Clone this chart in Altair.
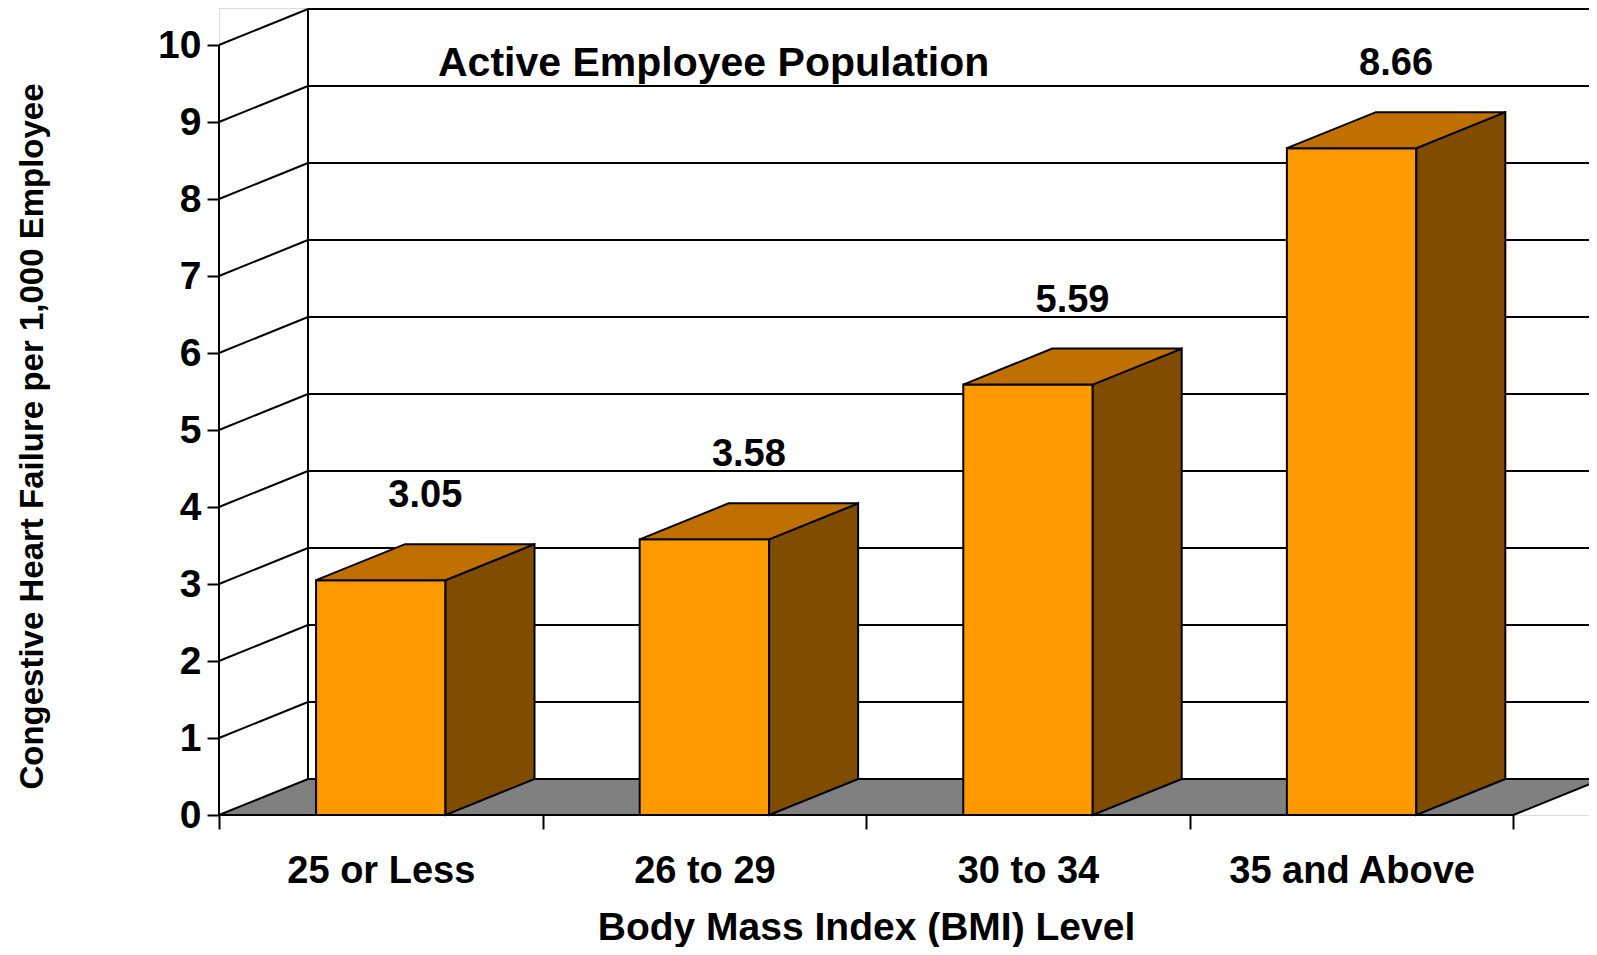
import altair as alt
import pandas as pd

# ---------------- data ----------------
categories = ['25 or Less', '26 to 29', '30 to 34', '35 and Above']
values = [3.05, 3.58, 5.59, 8.66]
value_labels = ['3.05', '3.58', '5.59', '8.66']
y_ticks = list(range(0, 11))
title_text = 'Active Employee Population'
x_title = 'Body Mass Index (BMI) Level'
y_title = 'Congestive Heart Failure per 1,000 Employee'

# ---------------- geometry / style ----------------
FONT = 'Liberation Sans'
PLOT_W, PLOT_H = 1370, 807
CAT_PX, UNIT_PX = 323.6, 77.0
DEPTH_X_PX, DEPTH_Y_PX = 89, 36
XMAX = PLOT_W / CAT_PX
YMAX = PLOT_H / UNIT_PX
DX = DEPTH_X_PX / CAT_PX
DY = DEPTH_Y_PX / UNIT_PX
BAR_LO, BAR_HI = 0.3, 0.7
FRONT_C, TOP_C, SIDE_C, FLOOR_C = '#FF9900', '#C07000', '#804C00', '#808080'
n = len(categories)

XS = alt.Scale(domain=[0, XMAX], nice=False, zero=False)
YS = alt.Scale(domain=[0, YMAX], nice=False, zero=False)

cat_js = '[' + ','.join("'" + c + "'" for c in categories) + ']'
XA = alt.Axis(values=list(range(n + 1)),
              labelExpr=f"datum.value < {n} ? {cat_js}[datum.value] : ''",
              labelOffset=CAT_PX / 2, labelFlush=False, labelOverlap=False, labelBound=False,
              labelLimit=0,
              labelFontSize=38, labelFont=FONT, labelFontWeight='bold', labelColor='black',
              labelBaseline='alphabetic', labelPadding=53,
              tickSize=14, tickWidth=2, tickColor='black', domain=False, grid=False,
              title=x_title, titleFontSize=39, titleFont=FONT, titleFontWeight='bold',
              titleColor='black', titleX=647, titleY=124, titleBaseline='alphabetic',
              titleAlign='center', titleLimit=0)
YA = alt.Axis(values=y_ticks, format='d',
              labelFontSize=39, labelFont=FONT, labelFontWeight='bold', labelColor='black',
              labelPadding=6, tickSize=12, tickWidth=2, tickColor='black',
              domain=False, grid=False,
              title=y_title, titleFontSize=33, titleFont=FONT, titleFontWeight='bold',
              titleColor='black', titleX=-176.7, titleY=428, titleBaseline='alphabetic',
              titleAlign='center', titleAngle=270, titleLimit=0)

def X(f='x'):
    return alt.X(f + ':Q', scale=XS, axis=XA)

def Y(f='y'):
    return alt.Y(f + ':Q', scale=YS, axis=YA)

# ---------------- frames built from the data ----------------
front = pd.DataFrame({'bar': range(n),
                      'x': [i + BAR_LO for i in range(n)],
                      'x2': [i + BAR_HI for i in range(n)],
                      'y': [0.0] * n, 'y2': values})

side_rows, top_rows = [], []
for i, v in enumerate(values):
    x0, x1 = i + BAR_LO, i + BAR_HI
    side_rows += [dict(bar=i, x=x1, hi=v, lo=0.0),
                  dict(bar=i, x=x1 + DX, hi=v + DY, lo=DY)]
    top_rows += [dict(bar=i, x=x0, hi=v, lo=v),
                 dict(bar=i, x=x0 + DX, hi=v + DY, lo=v),
                 dict(bar=i, x=x1, hi=v + DY, lo=v),
                 dict(bar=i, x=x1 + DX, hi=v + DY, lo=v + DY)]
side = pd.DataFrame(side_rows)
top = pd.DataFrame(top_rows)

floor = pd.DataFrame({'x': [0, DX, n, n + DX],
                      'hi': [0, DY, DY, DY],
                      'lo': [0, 0, 0, DY]})

grid = pd.DataFrame({'v': y_ticks})
grid['x'] = 0.0
grid['xb'] = DX
grid['xe'] = XMAX + 0.1
grid['y'] = grid['v'].astype(float)
grid['yb'] = grid['v'] + DY
grid_up = grid[grid['v'] > 0]

wall = pd.DataFrame({'x': [DX], 'y': [DY], 'y2': [y_ticks[-1] + DY]})
axis_line = pd.DataFrame({'x': [0.0], 'y': [0.0], 'y2': [float(y_ticks[-1])]})

labels = pd.DataFrame({'x': [i + 0.5 + DX / 2 for i in range(n)],
                       'y': [v + DY for v in values],
                       'label': value_labels})

# ---------------- layers ----------------
floor_l = alt.Chart(floor).mark_area(fill=FLOOR_C, stroke='black', strokeWidth=2, opacity=1).encode(
    x=X(), y=Y('hi'), y2='lo:Q')

back_lines = alt.Chart(grid).mark_rule(color='black', strokeWidth=2).encode(
    x=X('xb'), x2='xe:Q', y=Y('yb'))
slant_lines = alt.Chart(grid_up).mark_rule(color='black', strokeWidth=2).encode(
    x=X('x'), x2='xb:Q', y=Y('y'), y2='yb:Q')
wall_l = alt.Chart(wall).mark_rule(color='black', strokeWidth=2).encode(
    x=X(), y=Y(), y2='y2:Q')
axis_l = alt.Chart(axis_line).mark_rule(color='black', strokeWidth=2).encode(
    x=X(), y=Y(), y2='y2:Q')

front_l = alt.Chart(front).mark_rect(fill=FRONT_C, stroke='black', strokeWidth=2).encode(
    x=X(), x2='x2:Q', y=Y(), y2='y2:Q')
side_l = alt.Chart(side).mark_area(fill=SIDE_C, stroke='black', strokeWidth=2, opacity=1,
                                   strokeJoin='miter').encode(
    x=X(), y=Y('hi'), y2='lo:Q', detail='bar:N')
top_l = alt.Chart(top).mark_area(fill=TOP_C, stroke='black', strokeWidth=2, opacity=1,
                                 strokeJoin='miter').encode(
    x=X(), y=Y('hi'), y2='lo:Q', detail='bar:N')

text_l = alt.Chart(labels).mark_text(font=FONT, fontSize=38, fontWeight='bold', color='black',
                                     baseline='middle', align='center', dy=-48).encode(
    x=X(), y=Y(), text='label:N')

chart = alt.layer(floor_l, back_lines, slant_lines, wall_l, axis_l,
                  front_l, side_l, top_l, text_l).properties(
    width=PLOT_W, height=PLOT_H,
    autosize=alt.AutoSizeParams(type='none'),
    padding={'left': 211, 'top': 0, 'right': 0, 'bottom': 132},
    title=alt.TitleParams(title_text, anchor='start', frame='group', align='left',
                          baseline='alphabetic', orient='top', offset=0, dx=219, dy=109,
                          fontSize=41, font=FONT, fontWeight='bold', color='black'),
).configure_view(stroke=None).configure(background='white')

chart.save('out.html', embed_options={'renderer': 'svg', 'actions': False})
